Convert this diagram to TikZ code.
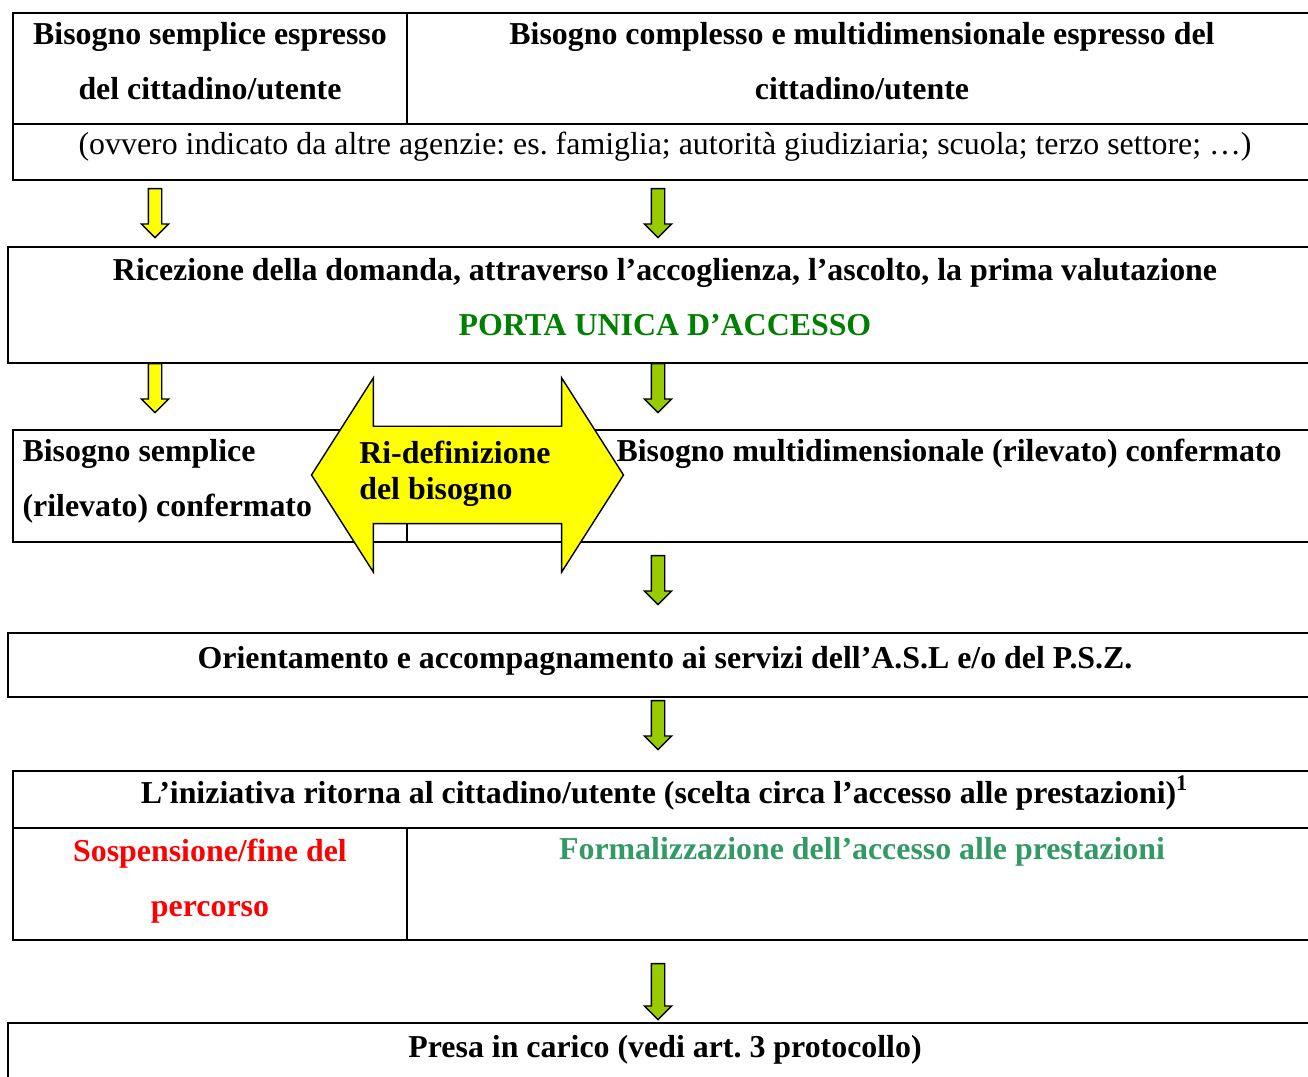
\documentclass[tikz,border=0pt]{standalone}
\usepackage{fontspec}
\setmainfont{Liberation Serif}
\usetikzlibrary{calc,fit,shapes.arrows}
\definecolor{giallo}{HTML}{FFFF00}
\definecolor{verdefreccia}{HTML}{99CC00}
\definecolor{verdeporta}{HTML}{008000}
\definecolor{verdemare}{HTML}{339966}
\definecolor{rosso}{HTML}{FF0000}
\frenchspacing

\begin{document}
\begin{tikzpicture}[x=0.1mm,y=-0.1mm]
\tikzstyle{cella}=[draw,line width=0.65pt,inner sep=0pt]
\tikzstyle{testo}=[font=\bfseries\fontsize{9.07}{15.65}\selectfont,align=center,inner sep=0pt,anchor=base]
\tikzstyle{freccia}=[single arrow,draw,line width=0.4pt,shape border rotate=270,inner sep=0.6mm,single arrow head extend=0.7mm,anchor=tail]
\useasboundingbox (0,0) rectangle (1308,1077);
\foreach \name/\a/\b in {
	c1a/{13,13}/{407,124},
	c1b/{407,13}/{1317,124},
	c1c/{13,124}/{1317,180},
	c2/{8,247}/{1322,363},
	c3a/{13,430}/{407,542},
	c3b/{407,430}/{1317,542},
	c4/{8,633}/{1322,697},
	c5/{13,771}/{1317,828},
	c5a/{13,828}/{407,940},
	c5b/{407,828}/{1317,940},
	c6/{8,1023}/{1322,1100}}
	\node[cella,fit={(\a) (\b)}] (\name) {};
\node[testo] (t1a) at ($(c1a.north)+(0,88)$) {Bisogno semplice espresso\\del cittadino/utente};
\node[testo] (t1b) at ($(c1b.north)+(0,88)$) {Bisogno complesso e multidimensionale espresso del\\cittadino/utente};
\node[testo,font=\fontsize{9.07}{15.65}\selectfont] (t1c) at ($(c1c.north)+(0,32)$) {(ovvero indicato da altre agenzie: es. famiglia; autorità giudiziaria; scuola; terzo settore; \dots)};
\node[testo] (t2) at ($(c2.north)+(0,90)$) {Ricezione della domanda, attraverso l’accoglienza, l’ascolto, la prima valutazione\\\textcolor{verdeporta}{PORTA UNICA D’ACCESSO}};
\node[testo,align=left,anchor=base west] (t3a) at ($(c3a.north west)+(10,88)$) {Bisogno semplice\\(rilevato) confermato};
\node[testo,anchor=base west] (t3b) at ($(c3b.north west)+(210,33)$) {Bisogno multidimensionale (rilevato) confermato};
\node[testo] (t4) at ($(c4.north)+(0,37)$) {Orientamento e accompagnamento ai servizi dell’A.S.L e/o del P.S.Z.};
\node[testo] (t5) at ($(c5.north)+(0,34)$) {L’iniziativa ritorna al cittadino/utente (scelta circa l’accesso alle prestazioni)\textsuperscript{1}};
\node[testo,text=rosso] (t5a) at ($(c5a.north)+(0,90)$) {Sospensione/fine del\\percorso};
\node[testo,text=verdemare] (t5b) at ($(c5b.north)+(0,33)$) {Formalizzazione dell’accesso alle prestazioni};
\node[testo] (t6) at ($(c6.north)+(0,36)$) {Presa in carico (vedi art. 3 protocollo)};
\foreach \name/\x/\y/\col/\len in {
	fg1/155/188/giallo/4.9mm,
	fv1/658/188/verdefreccia/4.9mm,
	fg2/155/363/giallo/4.9mm,
	fv2/658/363/verdefreccia/4.9mm,
	fv3/658/555/verdefreccia/4.9mm,
	fv4/658/700/verdefreccia/4.9mm,
	fv5/658/963/verdefreccia/5.6mm}
	\node[freccia,fill=\col,minimum height=\len] (\name) at (\x,\y) {};
\node[double arrow,draw,fill=giallo,line width=0.4pt,minimum height=31.2mm,inner sep=4.8mm,double arrow head extend=4.85mm,double arrow tip angle=115] (ridef) at (467.5,475) {};
\node[testo,align=left,anchor=base west,font=\bfseries\fontsize{9.07}{10.5}\selectfont] (tridef) at ($(ridef.west)+(48,25)$) {Ri-definizione\\del bisogno};
\end{tikzpicture}
\end{document}
